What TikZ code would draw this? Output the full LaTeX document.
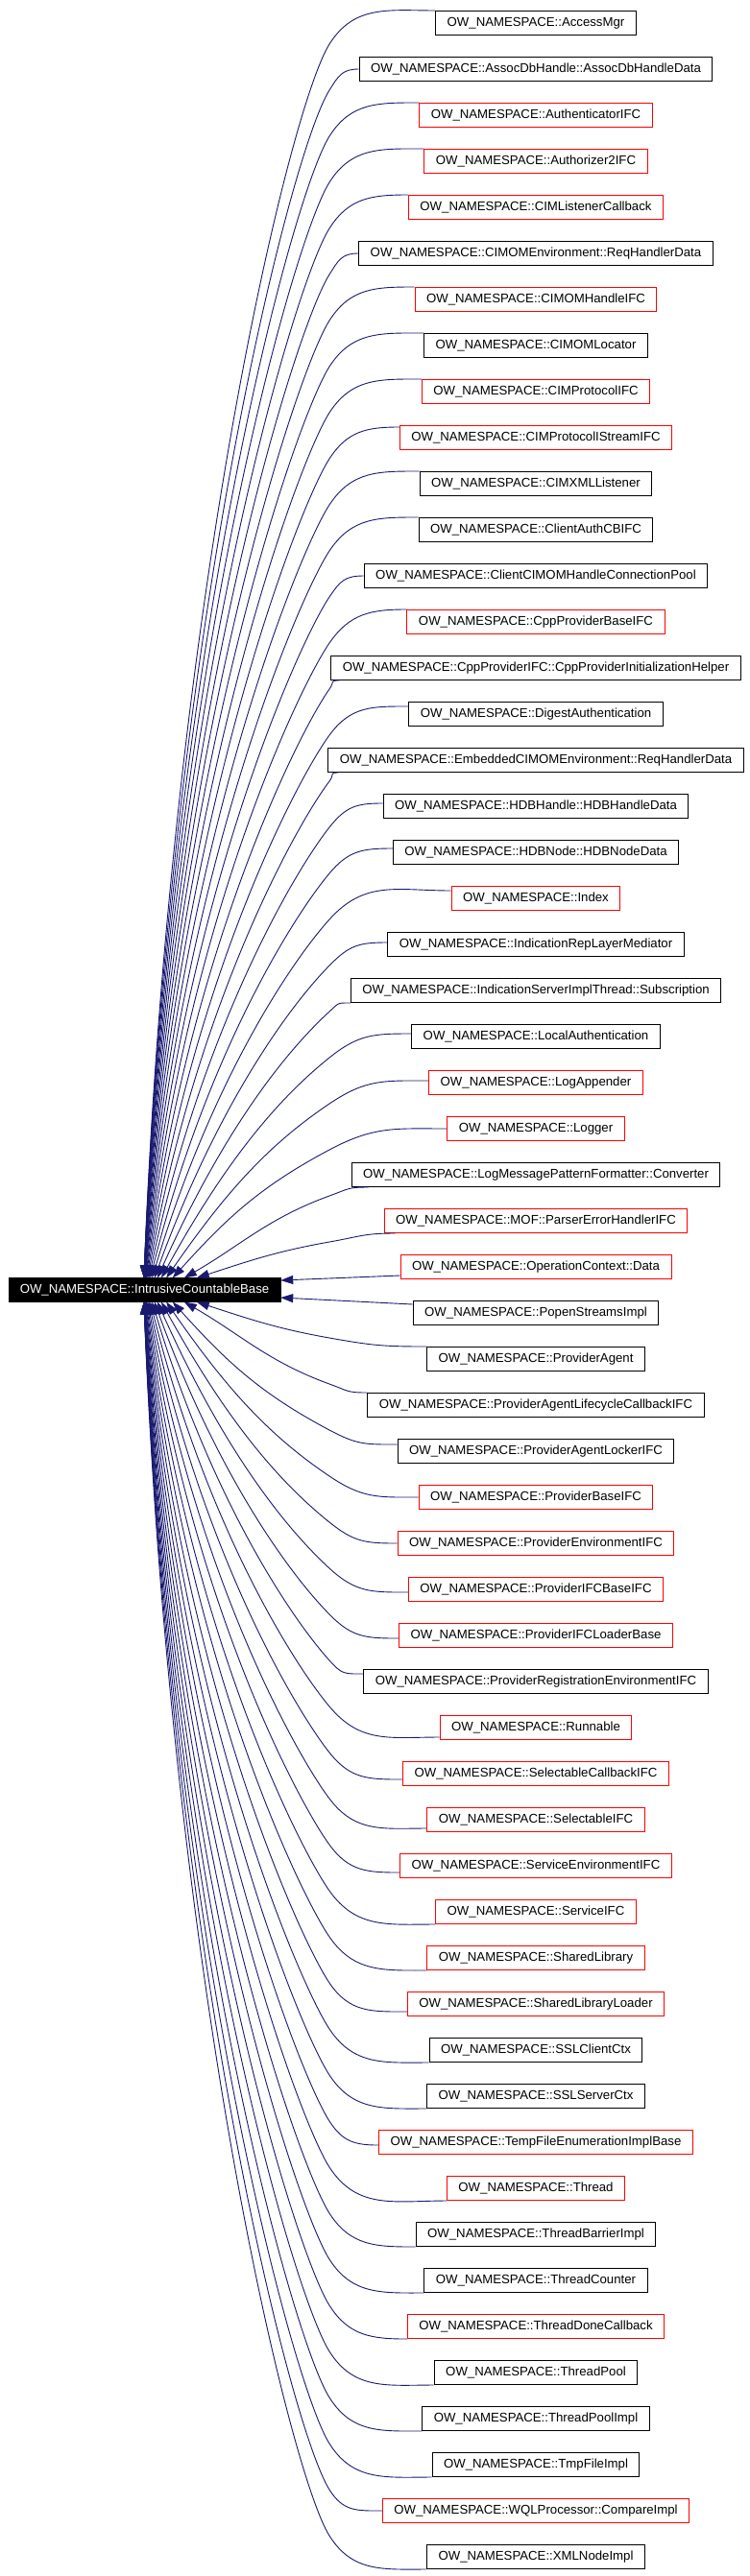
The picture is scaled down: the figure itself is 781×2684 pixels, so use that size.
\documentclass[tikz,border=0pt]{standalone}
\usepackage{fontspec}
\setmainfont{Liberation Sans}
\usetikzlibrary{arrows.meta,calc}
\definecolor{edgeblue}{RGB}{25,25,112}
\definecolor{boxred}{RGB}{255,0,0}
\begin{document}
\begin{tikzpicture}[x=1pt,y=1pt,
  cls/.style={draw=#1, line width=1pt, minimum height=25pt, inner xsep=12pt, inner ysep=0pt,
    font=\fontsize{13.2}{15}\selectfont, anchor=center},
  mainbox/.style={fill=black, draw=black, text=white, minimum height=25pt, minimum width=283pt,
    inner sep=0pt, font=\fontsize{13.2}{15}\selectfont},
  edge/.style={draw=edgeblue, line width=0.9pt, -{Triangle[length=13pt,width=9pt]}}
]
\useasboundingbox (0,0) rectangle (781,-2684);
\node[mainbox] (main) at (150.5,-1344) {OW\_NAMESPACE::IntrusiveCountableBase};
\foreach \i/\c/\t in {
0/black/AccessMgr,
1/black/AssocDbHandle::AssocDbHandleData,
2/boxred/AuthenticatorIFC,
3/boxred/Authorizer2IFC,
4/boxred/CIMListenerCallback,
5/black/CIMOMEnvironment::ReqHandlerData,
6/boxred/CIMOMHandleIFC,
7/black/CIMOMLocator,
8/boxred/CIMProtocolIFC,
9/boxred/CIMProtocolIStreamIFC,
10/black/CIMXMLListener,
11/black/ClientAuthCBIFC,
12/black/ClientCIMOMHandleConnectionPool,
13/boxred/CppProviderBaseIFC,
14/black/CppProviderIFC::CppProviderInitializationHelper,
15/black/DigestAuthentication,
16/black/EmbeddedCIMOMEnvironment::ReqHandlerData,
17/black/HDBHandle::HDBHandleData,
18/black/HDBNode::HDBNodeData,
19/boxred/Index,
20/black/IndicationRepLayerMediator,
21/black/IndicationServerImplThread::Subscription,
22/black/LocalAuthentication,
23/boxred/LogAppender,
24/boxred/Logger,
25/black/LogMessagePatternFormatter::Converter,
26/boxred/MOF::ParserErrorHandlerIFC,
27/boxred/OperationContext::Data,
28/black/PopenStreamsImpl,
29/black/ProviderAgent,
30/black/ProviderAgentLifecycleCallbackIFC,
31/black/ProviderAgentLockerIFC,
32/boxred/ProviderBaseIFC,
33/boxred/ProviderEnvironmentIFC,
34/boxred/ProviderIFCBaseIFC,
35/boxred/ProviderIFCLoaderBase,
36/black/ProviderRegistrationEnvironmentIFC,
37/boxred/Runnable,
38/boxred/SelectableCallbackIFC,
39/boxred/SelectableIFC,
40/boxred/ServiceEnvironmentIFC,
41/boxred/ServiceIFC,
42/boxred/SharedLibrary,
43/boxred/SharedLibraryLoader,
44/black/SSLClientCtx,
45/black/SSLServerCtx,
46/boxred/TempFileEnumerationImplBase,
47/boxred/Thread,
48/black/ThreadBarrierImpl,
49/black/ThreadCounter,
50/boxred/ThreadDoneCallback,
51/black/ThreadPool,
52/black/ThreadPoolImpl,
53/black/TmpFileImpl,
54/boxred/WQLProcessor::CompareImpl,
55/black/XMLNodeImpl}{
  \node[cls=\c] (n\i) at (558,{-24-48*\i}) {OW\_NAMESPACE::\t};
}
\foreach \i/\k/\s/\anc/\dx/\dy/\ex in {
0/27/1/north west/0/0/453,
1/26/1/west/0/0/373,
2/25/1/north west/0/0/436,
3/24/1/north west/0/0/441,
4/23/1/north west/0/0/425,
5/22/1/west/0/0/373,
6/21/1/north west/0/0/432,
7/20/1/north west/0/0/441,
8/19/1/north west/0/0/439,
9/18/1/north west/0/-2/416,
10/17/1/north west/0/0/437,
11/16/1/north west/0/0/436,
12/15/1/west/0/0/379,
13/14/1/north west/0/0/424,
14/13/1/south west/9/0/354,
15/12/1/west/0/8/425,
16/11/1/south west/11/0/353,
17/10/1/west/0/3/399,
18/9/1/west/0/4/408,
19/8/1/west/0/8/471,
20/7/1/west/0/2/404,
21/6/1/south west/0/0/364,
22/5/1/west/0/3/428,
23/4/1/west/0/2/447,
24/3/1/west/0/0/465,
25/2/1/south west/18/0/383,
26/1/1/south west/12/0/412,
29/1/-1/north west/0/0/444,
30/2/-1/north west/0/0/383,
31/3/-1/west/0/7/413,
32/4/-1/west/0/0/436,
33/5/-1/west/0/0/413,
34/6/-1/west/0/-3/425,
35/7/-1/west/0/-3/415,
36/8/-1/north west/0/-5/379,
37/9/-1/west/0/-10/459,
38/10/-1/west/0/-6/419,
39/11/-1/west/0/-9/444,
40/12/-1/west/0/-7/416,
41/13/-1/south west/0/0/453,
42/14/-1/south west/0/0/444,
43/15/-1/west/0/-8/424,
44/16/-1/south west/0/0/447,
45/17/-1/south west/0/0/444,
46/18/-1/west/0/-3/393,
47/19/-1/south west/0/0/465,
48/20/-1/south west/0/0/433,
49/21/-1/south west/0/0/441,
50/22/-1/south west/0/0/424,
51/23/-1/south west/0/0/452,
52/24/-1/south west/0/0/440,
53/25/-1/south west/0/0/449,
54/26/-1/west/0/0/397,
55/27/-1/south west/0/0/444}{
  \pgfmathsetmacro{\aK}{ifthenelse(\k==1,10,ifthenelse(\k==2,20,58-30*exp(-(\k-3)/4.5)))}
  \pgfmathsetmacro{\aT}{ifthenelse(\k==1,18,ifthenelse(\k==2,30,88-40*exp(-(\k-3)/5)))}
  \pgfmathsetmacro{\xt}{ifthenelse(\k==1,205,ifthenelse(\k==2,192,150+30*exp(-(\k-3)/4)))}
  \pgfmathsetmacro{\xtt}{\xt-9}
  \pgfmathsetmacro{\lo}{ifthenelse(\k<4,1,0.15+0.85*exp(-(\k-3)/4))}
  \pgfmathsetmacro{\li}{ifthenelse(\k<4,1,1.4-0.4*exp(-(\k-3)/4))}
  \pgfmathsetmacro{\inA}{(\s)*\aK}
  \pgfmathsetmacro{\outB}{180+(\s)*\aK}
  \pgfmathsetmacro{\inB}{(\s)*\aT}
  \pgfmathsetmacro{\ty}{12.5*(\s)}
  \pgfmathsetmacro{\yK}{-24-48*\i-22*(\s)}
  \pgfmathsetmacro{\yT}{-1344+\ty}
  \pgfmathsetmacro{\dd}{100*sqrt(((343-\xt)/100)^2+((\yK-\yT)/100)^2)}
  \pgfmathsetmacro{\cA}{0.39*(\ex-343+15)}
  \pgfmathsetmacro{\cC}{\lo*0.3915*\dd}
  \pgfmathsetmacro{\cD}{\li*0.3915*\dd}
  \draw[edge] ($(n\i.\anc)+(\dx,\dy)$)
    .. controls +(180:\cA) and +(\inA:\cA) .. (343,\yK)
    .. controls +(\outB:\cC) and +(\inB:\cD) .. ($(main.west)+(\xtt,\ty)$);
}
\draw[edge] ($(n27.west)+(0,-9)$) -- ($(main.east)+(0,10)$);
\draw[edge] ($(n28.west)+(0,9)$) -- ($(main.east)+(0,-8)$);
\end{tikzpicture}
\end{document}
